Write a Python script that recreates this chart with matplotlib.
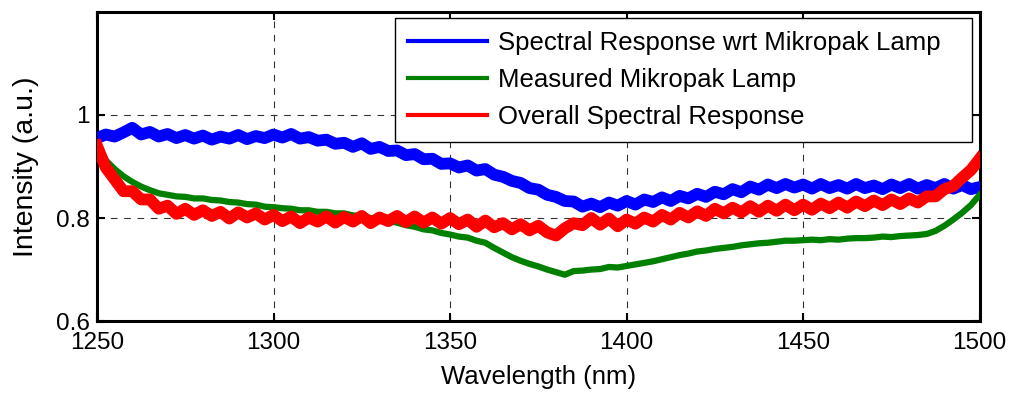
import numpy as np
import matplotlib
matplotlib.use("Agg")
import matplotlib.pyplot as plt

plt.rcParams['font.family'] = ['Liberation Sans', 'DejaVu Sans']

wavelength = np.arange(1250, 1500.1, 2.5)

spectral_response = [
    0.955, 0.962, 0.958, 0.966, 0.975, 0.962, 0.967, 0.958, 0.963, 0.955,
    0.961, 0.954, 0.960, 0.952, 0.958, 0.954, 0.961, 0.953, 0.959, 0.955,
    0.962, 0.956, 0.963, 0.954, 0.957, 0.950, 0.952, 0.944, 0.946, 0.938,
    0.945, 0.934, 0.938, 0.930, 0.931, 0.922, 0.924, 0.914, 0.915, 0.905,
    0.906, 0.898, 0.902, 0.892, 0.895, 0.884, 0.880, 0.872, 0.868, 0.858,
    0.855, 0.845, 0.841, 0.833, 0.832, 0.822, 0.828, 0.821, 0.830, 0.824,
    0.833, 0.826, 0.836, 0.831, 0.840, 0.833, 0.843, 0.838, 0.847, 0.841,
    0.851, 0.846, 0.856, 0.850, 0.861, 0.855, 0.865, 0.858, 0.866, 0.859,
    0.865, 0.857, 0.866, 0.858, 0.864, 0.857, 0.866, 0.858, 0.863, 0.856,
    0.865, 0.858, 0.866, 0.857, 0.864, 0.858, 0.866, 0.857, 0.864, 0.856,
    0.860,
]

measured_lamp = [
    0.945, 0.912, 0.895, 0.881, 0.870, 0.861, 0.854, 0.848, 0.845, 0.842,
    0.841, 0.838, 0.838, 0.835, 0.834, 0.831, 0.830, 0.827, 0.826, 0.822,
    0.821, 0.819, 0.818, 0.815, 0.815, 0.812, 0.812, 0.809, 0.809, 0.805,
    0.804, 0.800, 0.798, 0.794, 0.791, 0.786, 0.783, 0.778, 0.776, 0.771,
    0.768, 0.764, 0.762, 0.756, 0.752, 0.742, 0.733, 0.724, 0.717, 0.711,
    0.706, 0.700, 0.695, 0.690, 0.697, 0.698, 0.700, 0.701, 0.705, 0.704,
    0.707, 0.710, 0.713, 0.716, 0.720, 0.724, 0.728, 0.731, 0.735, 0.737,
    0.740, 0.742, 0.744, 0.747, 0.749, 0.751, 0.752, 0.754, 0.756, 0.756,
    0.757, 0.758, 0.757, 0.759, 0.758, 0.760, 0.761, 0.761, 0.762, 0.764,
    0.763, 0.765, 0.766, 0.767, 0.769, 0.775, 0.785, 0.797, 0.810, 0.825,
    0.845,
]

overall_response = [
    0.940, 0.898, 0.875, 0.852, 0.852, 0.836, 0.836, 0.818, 0.824, 0.808,
    0.818, 0.806, 0.815, 0.804, 0.812, 0.799, 0.811, 0.801, 0.809, 0.797,
    0.806, 0.794, 0.803, 0.790, 0.801, 0.793, 0.803, 0.791, 0.802, 0.793,
    0.804, 0.790, 0.801, 0.794, 0.804, 0.792, 0.803, 0.791, 0.801, 0.789,
    0.800, 0.788, 0.797, 0.783, 0.795, 0.782, 0.790, 0.778, 0.788, 0.776,
    0.785, 0.772, 0.766, 0.780, 0.790, 0.786, 0.800, 0.787, 0.799, 0.784,
    0.797, 0.789, 0.801, 0.793, 0.806, 0.797, 0.810, 0.801, 0.813, 0.804,
    0.818, 0.809, 0.820, 0.811, 0.823, 0.812, 0.824, 0.814, 0.826, 0.815,
    0.826, 0.816, 0.828, 0.819, 0.830, 0.820, 0.832, 0.823, 0.834, 0.825,
    0.836, 0.827, 0.838, 0.830, 0.842, 0.842, 0.856, 0.862, 0.878, 0.893,
    0.915,
]

labels = ["Spectral Response wrt Mikropak Lamp", "Measured Mikropak Lamp",
          "Overall Spectral Response"]
colors = ["#0000ff", "#008000", "#ff0000"]

xticks = [1250, 1300, 1350, 1400, 1450, 1500]
yticks = [0.6, 0.8, 1.0]
yticklabels = ["0.6", "0.8", "1"]

fig = plt.figure(figsize=(10.1, 3.94), dpi=100)
ax = fig.add_axes([0.096, 0.185, 0.874, 0.785])

ax.plot(wavelength, spectral_response, color=colors[0], lw=8.5,
        solid_joinstyle='round', label=labels[0], zorder=3)
ax.plot(wavelength, measured_lamp, color=colors[1], lw=4.5,
        solid_joinstyle='round', label=labels[1], zorder=3)
ax.plot(wavelength, overall_response, color=colors[2], lw=8.5,
        solid_joinstyle='round', label=labels[2], zorder=4)

ax.set_xlim(1250, 1500)
ax.set_ylim(0.6, 1.2)
ax.set_xticks(xticks)
ax.set_xticklabels([str(t) for t in xticks])
ax.set_yticks(yticks)
ax.set_yticklabels(yticklabels)
ax.tick_params(direction='in', length=6, width=1.5, labelsize=17.5,
               top=True, right=True)
ax.tick_params(axis='x', pad=8)
ax.tick_params(axis='y', pad=5)
for s in ax.spines.values():
    s.set_linewidth(2.2)
    s.set_color('black')
ax.grid(True, color='#333333', linestyle=(0, (6, 6)), linewidth=0.8)
ax.set_axisbelow(True)

ax.set_xlabel("Wavelength (nm)", fontsize=18.5, labelpad=8)
ax.set_ylabel("Intensity (a.u.)", fontsize=20.5, labelpad=12)

leg = ax.legend(loc='upper right', bbox_to_anchor=(0.3375, 0.5, 0.6535, 0.481),
                mode='expand', borderaxespad=0, fontsize=18.5, frameon=True,
                fancybox=False, framealpha=1, edgecolor='black',
                handlelength=3.1, handletextpad=0.4, labelspacing=0.52,
                borderpad=0.5)
leg.get_frame().set_linewidth(1.0)
leg.set_zorder(10)
for h in leg.get_lines():
    h.set_linewidth(3.0)

fig.savefig("out.png", dpi=100)
